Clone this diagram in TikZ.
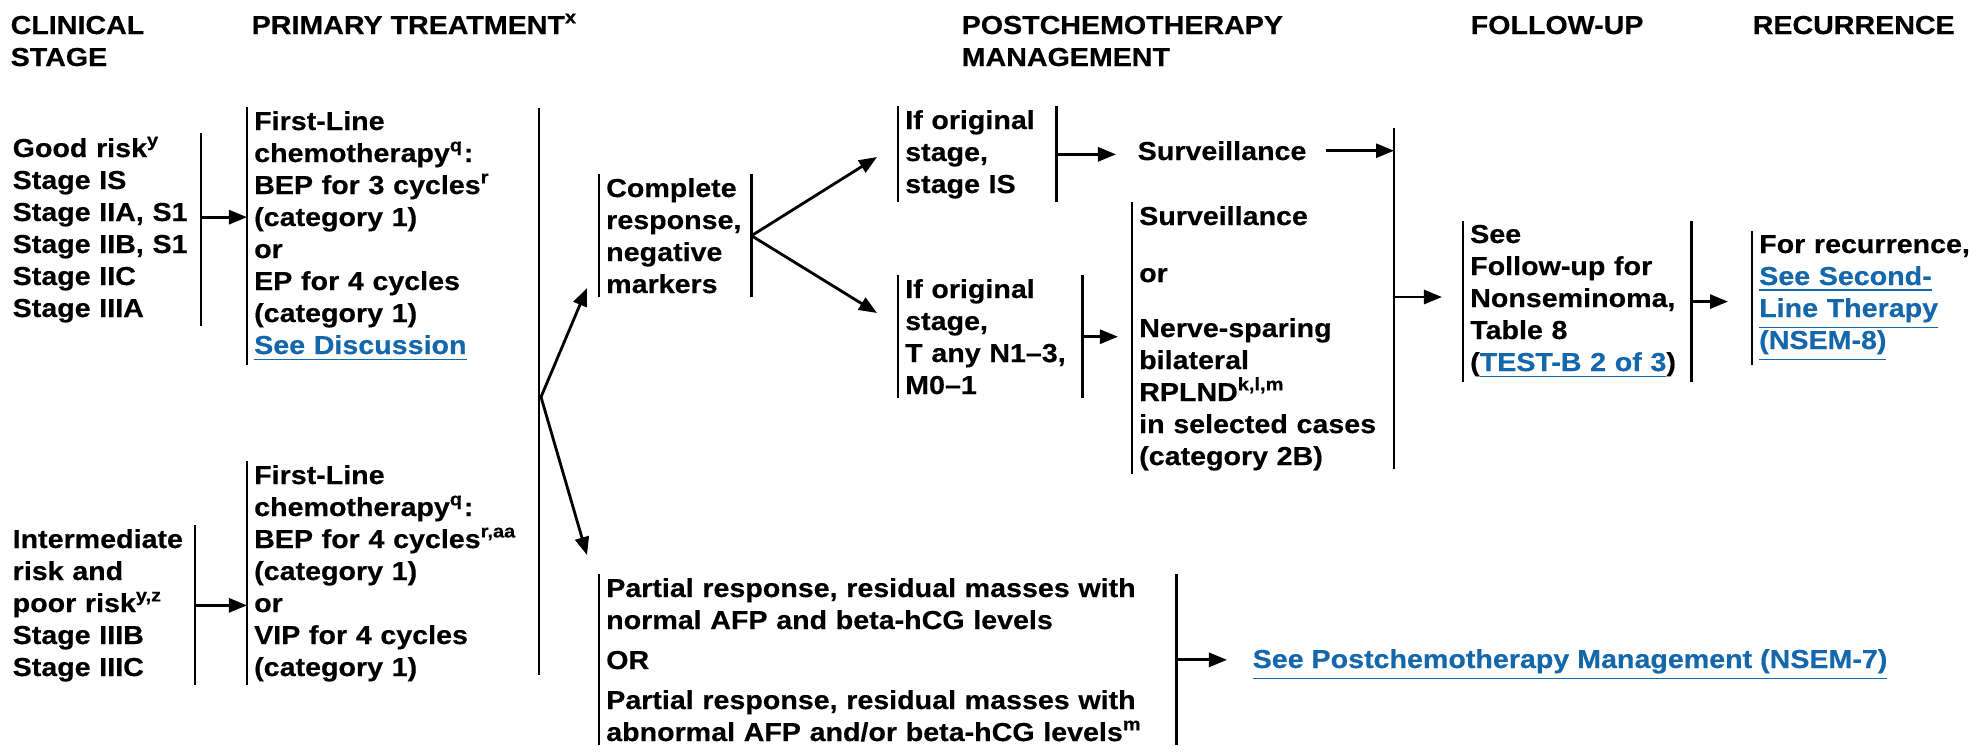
\documentclass[tikz,border=0pt]{standalone}
\usepackage{fontspec}
\setmainfont{Liberation Sans}[FakeStretch=1.1, FakeBold=0.4]
\usepackage{tikz}
\usetikzlibrary{arrows.meta}
\usepackage{xcolor}
\definecolor{linkblue}{RGB}{20,103,170}
\newcommand{\lnk}[1]{\textcolor{linkblue}{\underline{#1}}}

\begin{document}
\begin{tikzpicture}[x=0.01cm, y=-0.01cm,
        every node/.style={font=\fontsize{7.4pt}{9.1pt}\selectfont\bfseries},
        txt/.style={anchor=base west, align=left, inner xsep=0.065cm, inner ysep=0.03cm},
        head/.style={anchor=base west, align=left, inner sep=0pt},
        bar/.style={line width=0.8pt},
        arr/.style={line width=0.8pt, -{Triangle[length=0.18cm, width=0.14cm]}}]
        \useasboundingbox (0,0) rectangle (1976,753);
        \node[head, text width=2cm] (hClin) at (10,34) {CLINICAL\\STAGE};
        \node[head] (hPrim) at (251,34) {PRIMARY TREATMENT\textsuperscript{x}};
        \node[head, text width=4cm] (hPost) at (961,34) {POSTCHEMOTHERAPY\\MANAGEMENT};
        \node[head] (hFol) at (1470,34) {FOLLOW-UP};
        \node[head] (hRec) at (1752,34) {RECURRENCE};
        \node[txt, text width=1.81cm] (risk1) at (5.5,157) {Good risk\textsuperscript{y}\\Stage IS\\Stage IIA, S1\\Stage IIB, S1\\Stage IIC\\Stage IIIA};
        \node[txt, text width=2.8cm] (chemo1) at (247,130) {First-Line\\chemotherapy\textsuperscript{q}:\\BEP for 3 cycles\textsuperscript{r}\\(category 1)\\or\\EP for 4 cycles\\(category 1)\\\lnk{See Discussion}};
        \node[txt, text width=1.75cm] (risk2) at (5.5,548) {Intermediate\\risk and\\poor risk\textsuperscript{y,z}\\Stage IIIB\\Stage IIIC};
        \node[txt, text width=2.8cm] (chemo2) at (247,484) {First-Line\\chemotherapy\textsuperscript{q}:\\BEP for 4 cycles\textsuperscript{r,aa}\\(category 1)\\or\\VIP for 4 cycles\\(category 1)};
        \coordinate (splitTop) at (539,108);
        \coordinate (splitBot) at (539,675);
        \coordinate (split) at (541,397);
        \coordinate (tipCR) at (587,288);
        \coordinate (tipPR) at (587,555);
        \node[txt, text width=1.38cm] (cr) at (599,197) {Complete\\response,\\negative\\markers};
        \coordinate (tipIS) at (877,157);
        \coordinate (tipT) at (877,313);
        \node[txt, text width=1.44cm] (ifIS) at (898,129) {If original\\stage,\\stage IS};
        \node[txt, text width=1.70cm] (ifT) at (898,298) {If original\\stage,\\T any N1--3,\\M0--1};
        \node[txt] (surv1) at (1130.5,160) {Surveillance};
        \node[txt, text width=2.5cm] (surv2) at (1132,225) {Surveillance\\[0.25cm]or\\[0.23cm]Nerve-sparing\\bilateral\\RPLND\textsuperscript{k,l,m}\\in selected cases\\(category 2B)};
        \coordinate (rTop) at (1394,128);
        \coordinate (rBot) at (1394,469);
        \coordinate (rMid) at (1394,297);
        \node[txt, text width=2.14cm] (fu) at (1463,243) {See\\Follow-up for\\Nonseminoma,\\Table 8\\(\lnk{TEST-B 2 of 3})};
        \node[txt, text width=2.6cm] (rec) at (1752,253) {For recurrence,\\\lnk{See Second-}\\\lnk{Line Therapy}\\\lnk{(NSEM-8)}};
        \node[txt, text width=5.63cm] (pr) at (599,597) {Partial response, residual masses with\\normal AFP and beta-hCG levels\\[0.08cm]OR\\[0.08cm]Partial response, residual masses with\\abnormal AFP and/or beta-hCG levels\textsuperscript{m}};
        \node[txt] (nsem7) at (1245.5,668) {\lnk{See Postchemotherapy Management (NSEM-7)}};
        \draw[bar] (risk1.north east) -- (risk1.south east);
        \draw[arr] ([yshift=0.125cm]risk1.east) -- ([yshift=0.125cm]risk1.east -| chemo1.west);
        \draw[bar] (chemo1.north west) -- (chemo1.south west);
        \draw[bar] (risk2.north east) -- (risk2.south east);
        \draw[arr] (risk2.east) -- (risk2.east -| chemo2.west);
        \draw[bar] (chemo2.north west) -- (chemo2.south west);
        \draw[bar] (splitTop) -- (splitBot);
        \draw[arr] (split) -- (tipCR);
        \draw[arr] (split) -- (tipPR);
        \draw[bar] (cr.north west) -- (cr.south west);
        \draw[bar] (cr.north east) -- (cr.south east);
        \draw[arr] (cr.east) -- (tipIS);
        \draw[arr] (cr.east) -- (tipT);
        \draw[bar] (ifIS.north west) -- (ifIS.south west);
        \draw[bar] (ifIS.north east) -- (ifIS.south east);
        \draw[arr, shorten >=0.145cm] (ifIS.east) -- (ifIS.east -| surv1.west);
        \draw[arr, shorten <=0.12cm] (surv1.east) -- (surv1.east -| rTop);
        \draw[bar] (ifT.north west) -- (ifT.south west);
        \draw[bar] (ifT.north east) -- (ifT.south east);
        \draw[arr, shorten >=0.14cm] (ifT.east) -- (ifT.east -| surv2.west);
        \draw[bar] (surv2.north west) -- (surv2.south west);
        \draw[bar] (rTop) -- (rBot);
        \draw[arr, shorten >=0.21cm] (rMid) -- (rMid -| fu.west);
        \draw[bar] (fu.north west) -- (fu.south west);
        \draw[bar] (fu.north east) -- (fu.south east);
        \draw[arr, shorten >=0.24cm] (fu.east) -- (fu.east -| rec.west);
        \draw[bar] (rec.north west) -- (rec.south west);
        \draw[bar] (pr.north west) -- (pr.south west);
        \draw[bar] (pr.north east) -- (pr.south east);
        \draw[arr, shorten >=0.185cm] (pr.east) -- (pr.east -| nsem7.west);
    \end{tikzpicture}
\end{document}
